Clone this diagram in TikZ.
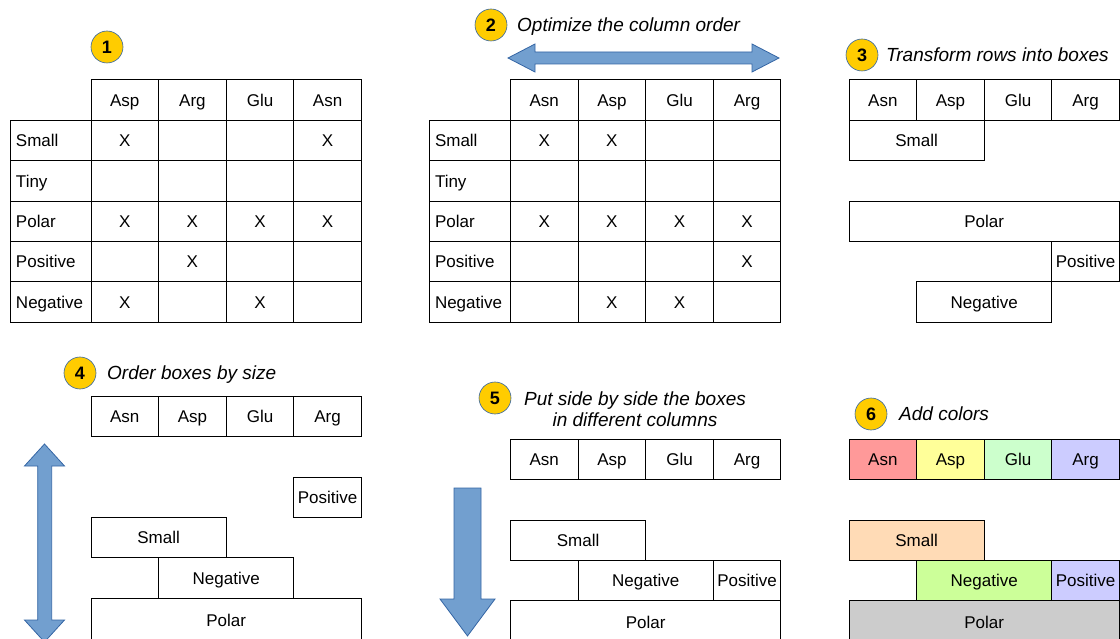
\documentclass[tikz,border=0pt]{standalone}
\usepackage{fontspec}
\setmainfont{Liberation Sans}
\definecolor{cAsn}{HTML}{FF9999}
\definecolor{cAsp}{HTML}{FFFF99}
\definecolor{cGlu}{HTML}{CCFFCC}
\definecolor{cArg}{HTML}{CCCCFF}
\definecolor{cSmall}{HTML}{FFDBB6}
\definecolor{cNeg}{HTML}{CCFF99}
\definecolor{cPolar}{HTML}{CCCCCC}
\definecolor{arrFill}{HTML}{729FCF}
\definecolor{arrDraw}{HTML}{3465A4}
\definecolor{circFill}{HTML}{FFCC00}
\tikzset{
  bx/.style={draw, line width=1pt, inner sep=0pt, outer sep=0pt, anchor=north west,
    minimum height=40.4pt, text height=12.2pt, text depth=0pt,
    font=\fontsize{17}{20}\selectfont},
  w1/.style={minimum width=67.6pt},
  w2/.style={minimum width=135.2pt},
  w4/.style={minimum width=270.4pt},
  lab/.style={bx, text width=69pt, inner xsep=6pt, align=left},
  numcirc/.style={circle, draw=arrDraw, line width=0.6pt, fill=circFill, minimum size=32pt,
    inner sep=0pt, text height=13pt, text depth=0pt, font=\bfseries\fontsize{18}{20}\selectfont},
  ttl/.style={anchor=west, inner sep=0pt, text height=13.6pt, text depth=0pt,
    font=\itshape\fontsize{19}{21}\selectfont},
  bigarrow/.style={fill=arrFill, draw=arrDraw, line width=0.8pt, line join=miter},
}
\begin{document}
\begin{tikzpicture}[x=1pt, y=-1pt]
\useasboundingbox (0,0) rectangle (1120,639);

% ---------- Panel 1 ----------
\node[numcirc] (c1) at (107,47) {1};
\foreach \h [count=\j from 0] in {Asp,Arg,Glu,Asn}
  \node[bx,w1] (p1h\j) at ({91+67.6*\j},80) {\h};
\foreach \lab/\a/\b/\c/\d [count=\i from 0] in
  {Small/X/{}/{}/X, Tiny/{}/{}/{}/{}, Polar/X/X/X/X, Positive/{}/X/{}/{}, Negative/X/{}/X/{}}{
  \node[lab] (p1l\i) at (10,{120.4+40.4*\i}) {\lab};
  \node[bx,w1] (p1c\i-0) at (91,{120.4+40.4*\i}) {\a};
  \node[bx,w1] (p1c\i-1) at (158.6,{120.4+40.4*\i}) {\b};
  \node[bx,w1] (p1c\i-2) at (226.2,{120.4+40.4*\i}) {\c};
  \node[bx,w1] (p1c\i-3) at (293.8,{120.4+40.4*\i}) {\d};
}

% ---------- Panel 2 ----------
\node[numcirc] (c2) at (491,25) {2};
\node[ttl] (t2) at (517,25) {Optimize the column order};
\draw[bigarrow] (508,58) -- (535,44) -- (535,52) -- (752,52) -- (752,44) -- (779,58)
  -- (752,72) -- (752,64) -- (535,64) -- (535,72) -- cycle;
\foreach \h [count=\j from 0] in {Asn,Asp,Glu,Arg}
  \node[bx,w1] (p2h\j) at ({510.5+67.6*\j},80) {\h};
\foreach \lab/\a/\b/\c/\d [count=\i from 0] in
  {Small/X/X/{}/{}, Tiny/{}/{}/{}/{}, Polar/X/X/X/X, Positive/{}/{}/{}/X, Negative/{}/X/X/{}}{
  \node[lab] (p2l\i) at (429,{120.4+40.4*\i}) {\lab};
  \node[bx,w1] (p2c\i-0) at (510.5,{120.4+40.4*\i}) {\a};
  \node[bx,w1] (p2c\i-1) at (578.1,{120.4+40.4*\i}) {\b};
  \node[bx,w1] (p2c\i-2) at (645.7,{120.4+40.4*\i}) {\c};
  \node[bx,w1] (p2c\i-3) at (713.3,{120.4+40.4*\i}) {\d};
}

% ---------- Panel 3 ----------
\node[numcirc] (c3) at (862,55) {3};
\node[ttl] (t3) at (886,55) {Transform rows into boxes};
\foreach \h [count=\j from 0] in {Asn,Asp,Glu,Arg}
  \node[bx,w1] (p3h\j) at ({849+67.6*\j},80) {\h};
\node[bx,w2] (p3small) at (849,120.4) {Small};
\node[bx,w4] (p3polar) at (849,201.2) {Polar};
\node[bx,w1] (p3pos) at (1051.8,241.6) {Positive};
\node[bx,w2] (p3neg) at (916.6,282) {Negative};

% ---------- Panel 4 ----------
\node[numcirc] (c4) at (80,373) {4};
\node[ttl] (t4) at (107,373) {Order boxes by size};
\draw[bigarrow] (44.5,444) -- (64.5,466) -- (51.7,466) -- (51.7,620) -- (64.5,620) -- (44.5,642)
  -- (24.5,620) -- (37.7,620) -- (37.7,466) -- (24.5,466) -- cycle;
\foreach \h [count=\j from 0] in {Asn,Asp,Glu,Arg}
  \node[bx,w1] (p4h\j) at ({91+67.6*\j},396) {\h};
\node[bx,w1] (p4pos) at (293.8,477) {Positive};
\node[bx,w2] (p4small) at (91,517.4) {Small};
\node[bx,w2] (p4neg) at (158.6,557.8) {Negative};
\node[bx,w4,minimum height=44pt] (p4polar) at (91,598.2) {Polar};

% ---------- Panel 5 ----------
\node[numcirc] (c5) at (495,398) {5};
\node[anchor=base, inner sep=0pt, align=center, font=\itshape\fontsize{19}{21.5}\selectfont]
  (t5) at (635,426.8) {Put side by side the boxes\\in different columns};
\draw[bigarrow] (454,488) -- (481,488) -- (481,599) -- (495,599) -- (467.5,636) -- (440,599)
  -- (454,599) -- cycle;
\foreach \h [count=\j from 0] in {Asn,Asp,Glu,Arg}
  \node[bx,w1] (p5h\j) at ({510.5+67.6*\j},439) {\h};
\node[bx,w2] (p5small) at (510.5,520) {Small};
\node[bx,w2] (p5neg) at (578.1,560.4) {Negative};
\node[bx,w1] (p5pos) at (713.3,560.4) {Positive};
\node[bx,w4,minimum height=44pt] (p5polar) at (510.5,600.8) {Polar};

% ---------- Panel 6 ----------
\node[numcirc] (c6) at (871,414) {6};
\node[ttl] (t6) at (899,414) {Add colors};
\node[bx,w1,fill=cAsn] (p6h0) at (849,439) {Asn};
\node[bx,w1,fill=cAsp] (p6h1) at (916.6,439) {Asp};
\node[bx,w1,fill=cGlu] (p6h2) at (984.2,439) {Glu};
\node[bx,w1,fill=cArg] (p6h3) at (1051.8,439) {Arg};
\node[bx,w2,fill=cSmall] (p6small) at (849,520) {Small};
\node[bx,w2,fill=cNeg] (p6neg) at (916.6,560.4) {Negative};
\node[bx,w1,fill=cArg] (p6pos) at (1051.8,560.4) {Positive};
\node[bx,w4,fill=cPolar,minimum height=44pt] (p6polar) at (849,600.8) {Polar};
\end{tikzpicture}
\end{document}
